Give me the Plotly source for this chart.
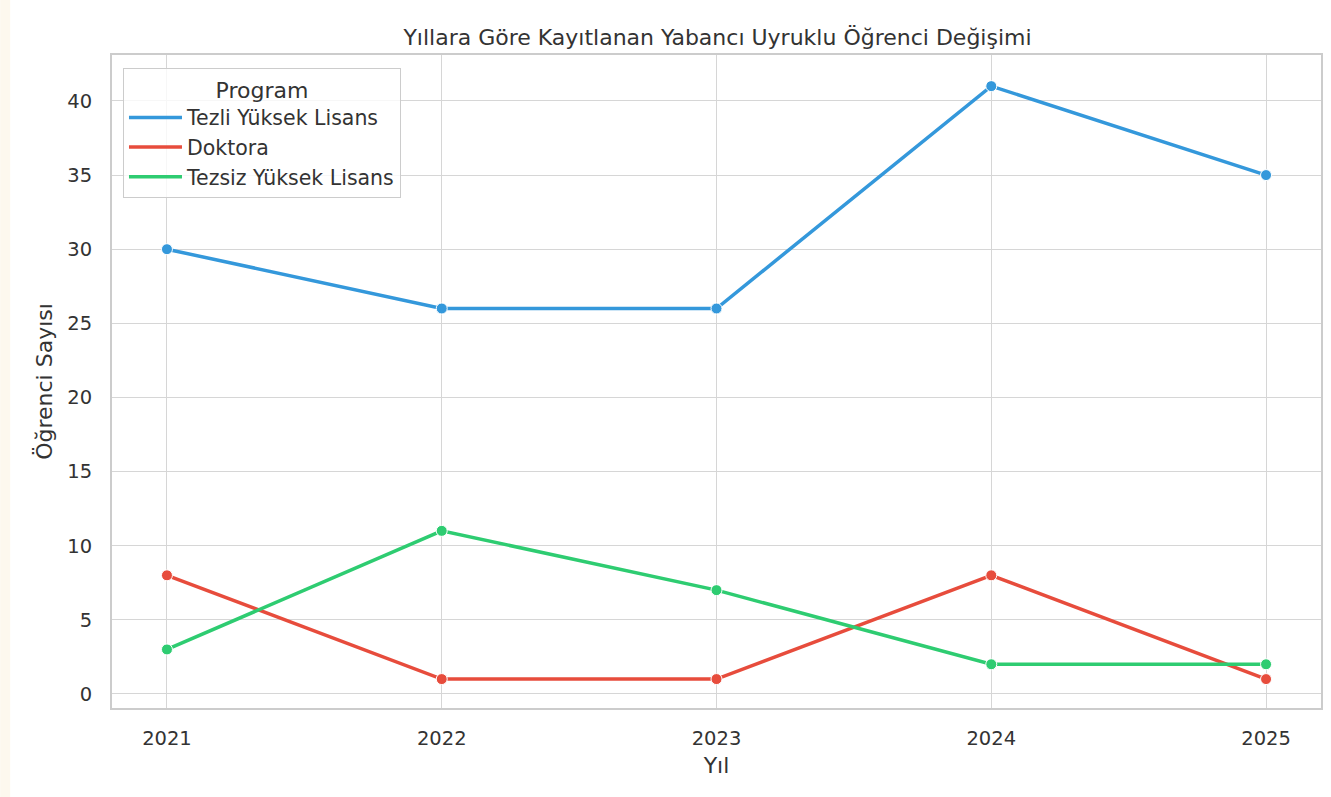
import plotly.graph_objects as go

years = [2021, 2022, 2023, 2024, 2025]
tezli = [30, 26, 26, 41, 35]
doktora = [8, 1, 1, 8, 1]
tezsiz = [3, 11, 7, 2, 2]
series_names = ["Tezli Yüksek Lisans", "Doktora", "Tezsiz Yüksek Lisans"]
colors = ["#3498db", "#e74c3c", "#2ecc71"]
yticks = [0, 5, 10, 15, 20, 25, 30, 35, 40]

W, H = 1331, 797
L, R, T, B = 112, 8, 55, 89

fig = go.Figure()
for name, vals, c in zip(series_names, [tezli, doktora, tezsiz], colors):
    fig.add_trace(go.Scatter(x=years, y=vals, mode="lines", name=name,
                             line=dict(color=c, width=3.5), legendgroup=name))
    fig.add_trace(go.Scatter(x=years, y=vals, mode="markers", name=name,
                             marker=dict(color=c, size=11, line=dict(color="white", width=1)),
                             showlegend=False, legendgroup=name, hoverinfo="skip"))

pw = W - L - R
ph = H - T - B
fig.add_shape(type="rect", xref="paper", yref="paper",
              x0=-L / pw, x1=(10 - L) / pw, y0=-2, y1=2,
              fillcolor="#fdf8ee", line=dict(width=0), layer="below")

font_c = "#333333"
fig.update_layout(
    width=W, height=H,
    margin=dict(l=L, r=R, t=T, b=B),
    paper_bgcolor="white", plot_bgcolor="white",
    font=dict(family="DejaVu Sans", size=20, color=font_c),
    title=dict(text="Yıllara Göre Kayıtlanan Yabancı Uyruklu Öğrenci Değişimi",
               x=(L + pw / 2) / W, xanchor="center", y=1 - 37 / H, yanchor="middle",
               font=dict(size=22, color=font_c)),
    xaxis=dict(range=[2020.8, 2025.2], tickvals=years, ticktext=[str(y) for y in years],
               showgrid=True, gridcolor="#d6d6d6", gridwidth=1,
               showline=True, linecolor="#cccccc", linewidth=2, mirror=True,
               zeroline=False, ticks="", ticklabelstandoff=12,
               tickfont=dict(size=19.5, color=font_c),
               title=dict(text="Yıl", font=dict(size=22, color=font_c), standoff=8)),
    yaxis=dict(range=[-0.95, 43.1], tickvals=yticks,
               showgrid=True, gridcolor="#d6d6d6", gridwidth=1,
               showline=True, linecolor="#cccccc", linewidth=2, mirror=True,
               zeroline=False, ticks="", ticklabelstandoff=14,
               tickfont=dict(size=19.5, color=font_c),
               title=dict(text="Öğrenci Sayısı", font=dict(size=22, color=font_c), standoff=9)),
    legend=dict(title=dict(text="Program", side="top center", font=dict(size=22)),
                x=(123 - L) / pw, y=1 - (68 - T) / ph, xanchor="left", yanchor="top",
                bgcolor="rgba(255,255,255,0.8)", bordercolor="#cccccc", borderwidth=1,
                font=dict(size=20.5, color=font_c), tracegroupgap=0, itemwidth=53),
    showlegend=True,
)

fig.write_html("out.html", config={"displayModeBar": False},
               post_script="document.body.style.margin='0';document.body.style.padding='0';")
